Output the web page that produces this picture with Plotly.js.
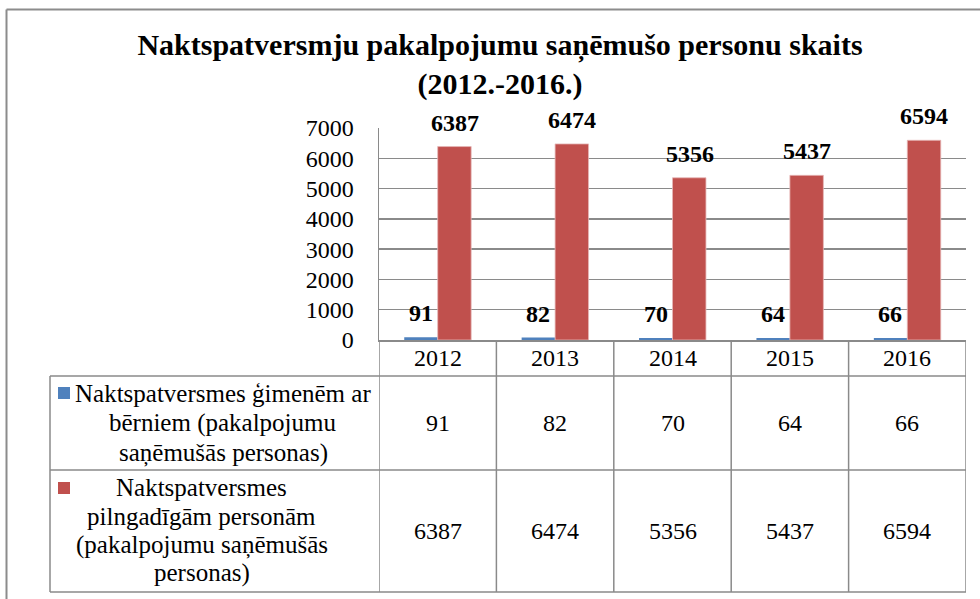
<!DOCTYPE html>
<html>
<head>
<meta charset="utf-8">
<script src="https://cdn.plot.ly/plotly-3.0.1.min.js"></script>
<style>
html,body{margin:0;padding:0;background:#fff;}
#chart{width:980px;height:599px;}
#chart text{font-family:"Liberation Serif","Times New Roman",Tinos,serif !important;}
</style>
</head>
<body>
<div id="chart"></div>
<script>
// ---- data ----
const years = ["2012", "2013", "2014", "2015", "2016"];
const familiesValues = [91, 82, 70, 64, 66];
const adultsValues = [6387, 6474, 5356, 5437, 6594];
const familiesName = "Naktspatversmes ģimenēm ar<br>bērniem (pakalpojumu<br>saņēmušās personas)";
const adultsName = "Naktspatversmes<br>pilngadīgām personām<br>(pakalpojumu saņēmušās<br>personas)";
const titleText = "<b>Naktspatversmju pakalpojumu saņēmušo personu skaits<br>(2012.-2016.)</b>";
const yTickVals = [0, 1000, 2000, 3000, 4000, 5000, 6000, 7000];

// ---- style ----
const FONT = "Liberation Serif";
const BLUE = "#4F81BD";
const RED = "#C0504D";
const GRID = "#8a8a8a";
const W = 980, H = 599;
const PL = 379, PR = 966, PT = 128, PB = 340;
const px2x = p => (p - PL) / (PR - PL);
const px2y = p => (PB - p) / (PB - PT);

const traces = [
  {type: "bar", name: familiesName, x: years, y: familiesValues,
   marker: {color: BLUE}, hoverinfo: "x+y"},
  {type: "bar", name: adultsName, x: years, y: adultsValues,
   marker: {color: RED, line: {color: "#e6b8b7", width: 0.8}}, hoverinfo: "x+y"}
];

const shapes = [];
const annotations = [];
const line = (x0, y0, x1, y1, xref, w, c) => shapes.push({type: "line", xref: xref || "paper", yref: "paper",
  x0, y0, x1, y1, line: {color: c || GRID, width: w || 1.5}, layer: "above"});

// outer frame
line(px2x(6.5), px2y(9.5), px2x(W + 5), px2y(9.5), "paper", 2, "#8c8c8c");
line(px2x(6.5), px2y(9.5), px2x(6.5), px2y(H + 5), "paper", 2, "#8c8c8c");

// table grid
years.forEach((y, i) => line(i - 0.5, px2y(PB), i - 0.5, px2y(592), "x"));
line(years.length - 0.5, px2y(PB), years.length - 0.5, px2y(592), "x");
line(px2x(50), px2y(376), px2x(50), px2y(592));
[376, 470, 592].forEach(py => line(px2x(50), px2y(py), px2x(PR), px2y(py)));

// legend keys
shapes.push({type: "rect", xref: "paper", yref: "paper", x0: px2x(58), x1: px2x(70), y0: px2y(387), y1: px2y(399),
  fillcolor: BLUE, line: {width: 0}});
shapes.push({type: "rect", xref: "paper", yref: "paper", x0: px2x(58), x1: px2x(70), y0: px2y(482), y1: px2y(494),
  fillcolor: RED, line: {width: 0}});

const txt = (x, y, text, opts) => annotations.push(Object.assign({x, y, text, showarrow: false,
  xref: "paper", yref: "paper", xanchor: "center", yanchor: "middle",
  font: {family: FONT, size: 24, color: "#000"}}, opts || {}));

// legend labels, one annotation per line
const legendLines = (name, cx, cy, step) => {
  const parts = name.split("<br>");
  parts.forEach((p, k) => txt(px2x(cx), px2y(cy + (k - (parts.length - 1) / 2) * step), p,
    {font: {family: FONT, size: 25, color: "#000"}}));
};
legendLines(familiesName, 223, 423, 30);
legendLines(adultsName, 201.5, 530.5, 28.5);

// table header and values (category index i on the x axis)
years.forEach((yr, i) => {
  txt(i, px2y(358), yr, {xref: "x"});
  txt(i, px2y(423), String(familiesValues[i]), {xref: "x"});
  txt(i, px2y(531), String(adultsValues[i]), {xref: "x"});
  // bar data labels
  txt(i, familiesValues[i], "<b>" + familiesValues[i] + "</b>", {xref: "x", yref: "y", xshift: -17, yshift: 24});
  txt(i, adultsValues[i], "<b>" + adultsValues[i] + "</b>", {xref: "x", yref: "y", xshift: 17, yshift: 24});
});

const layout = {
  width: W, height: H,
  margin: {l: PL, r: W - PR, t: PT, b: H - PB, pad: 0},
  paper_bgcolor: "#fff", plot_bgcolor: "#fff",
  font: {family: FONT, size: 24, color: "#000"},
  title: {text: titleText, font: {family: FONT, size: 30, color: "#000"},
    x: 500 / W, xanchor: "center", xref: "container", yref: "container", y: 1 - 55 / H, yanchor: "middle"},
  showlegend: false,
  barmode: "group", bargap: 0.43, bargroupgap: 0,
  xaxis: {type: "category", showticklabels: false, ticks: "", showgrid: false, zeroline: false,
    showline: true, linecolor: GRID, linewidth: 1.5, range: [-0.5, years.length - 0.5]},
  yaxis: {range: [0, 7000], tickvals: yTickVals, ticktext: yTickVals.map(String), showgrid: true,
    gridcolor: GRID, gridwidth: 1.3, zeroline: false, showline: true, linecolor: GRID, linewidth: 1.5,
    ticks: "", ticklabelstandoff: 19, tickfont: {family: FONT, size: 24, color: "#000"}},
  shapes, annotations
};

Plotly.newPlot("chart", traces, layout, {displayModeBar: false, staticPlot: true});
</script>
</body>
</html>
